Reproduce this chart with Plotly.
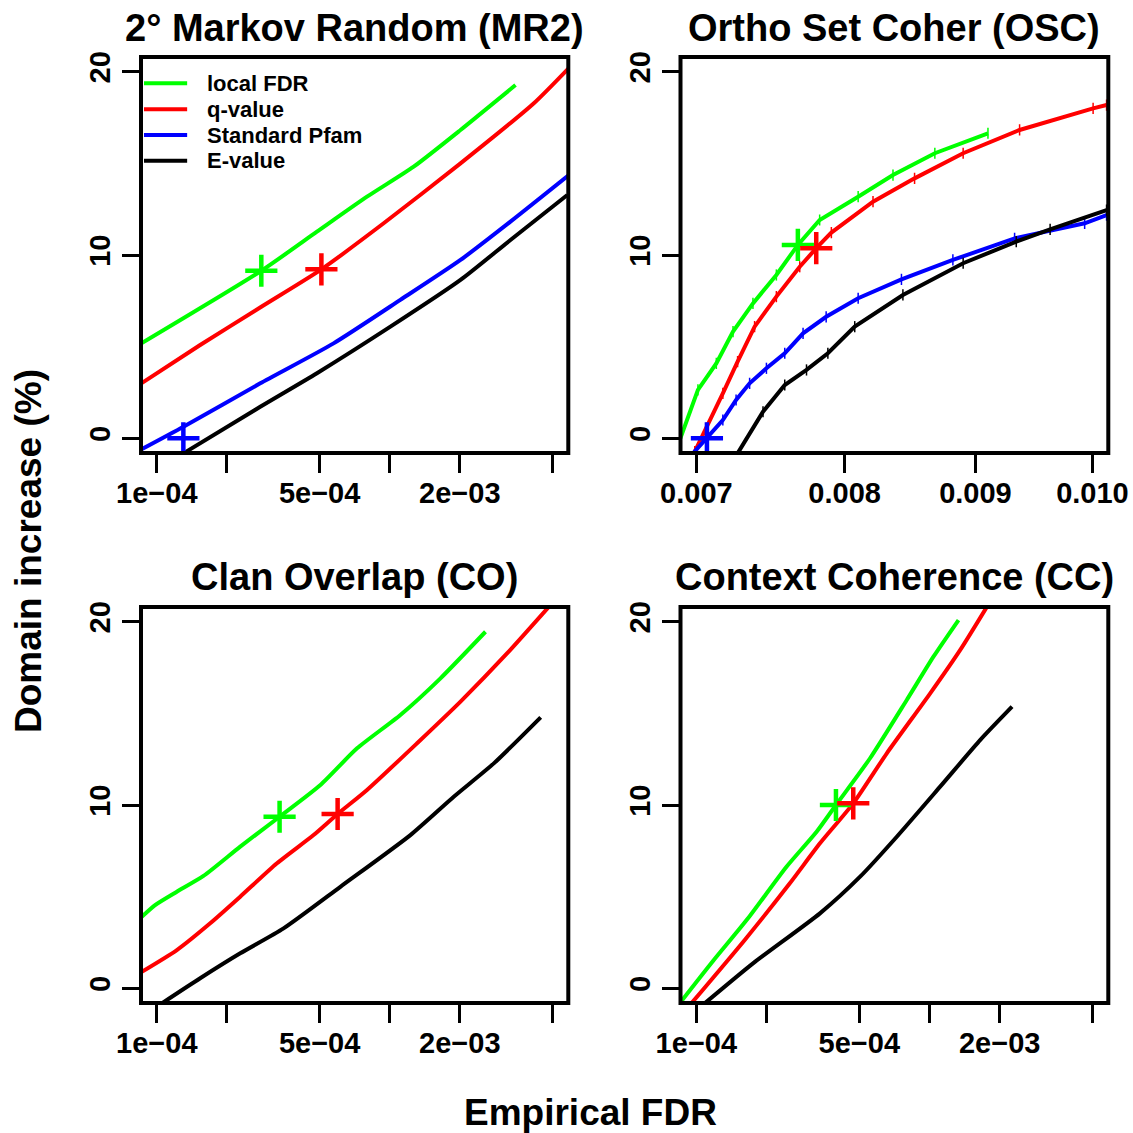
import plotly.graph_objects as go

W = H = 1133
FONT = "Liberation Sans, Arial, Helvetica, sans-serif"

# ---- series: (empirical FDR, domain increase %) ----
# 2nd-order Markov random (MR2)
mr2_lfdr_x = [8.48e-5, 2.81e-4, 4.87e-4, 7.99e-4, 1.268e-3, 2.014e-3, 3.47e-3]
mr2_lfdr_y = [5.14, 9.14, 11.27, 13.18, 14.82, 16.82, 19.27]
mr2_q_x = [8.48e-5, 1.535e-4, 2.81e-4, 5.09e-4, 9.42e-4, 2.014e-3, 4.16e-3, 5.92e-3]
mr2_q_y = [2.96, 5.09, 7.18, 9.22, 11.73, 15.0, 18.28, 20.24]
mr2_pfam_x = [8.48e-5, 1.301e-4, 2.78e-4, 5.74e-4, 1.111e-3, 2.014e-3, 3.30e-3, 5.88e-3]
mr2_pfam_y = [-0.64, 0.63, 3.0, 5.18, 7.55, 9.73, 11.82, 14.36]
mr2_e_x = [1.30e-4, 2.78e-4, 4.87e-4, 1.007e-3, 2.014e-3, 3.30e-3, 5.79e-3]
mr2_e_y = [-0.82, 1.72, 3.55, 6.09, 8.64, 10.82, 13.27]
mr2_mark_x = [2.81e-4, 5.09e-4, 1.30e-4]
mr2_mark_y = [9.14, 9.22, 0.0]

# Ortho set coherence (OSC)
osc_lfdr_x = [0.00690, 0.00701, 0.007127, 0.007235, 0.007366, 0.007523, 0.00767,
              0.007822, 0.008098, 0.008356, 0.008677, 0.009102]
osc_lfdr_y = [0.0, 2.64, 4.09, 5.82, 7.36, 8.91, 10.55, 11.91, 13.18, 14.36, 15.55, 16.64]
osc_q_x = [0.00699, 0.007063, 0.007169, 0.007265, 0.007377, 0.007523, 0.007683, 0.007798,
           0.007905, 0.008207, 0.00852, 0.008901, 0.009365, 0.010006, 0.010128]
osc_q_y = [-0.73, 0.55, 2.45, 4.18, 6.09, 7.73, 9.36, 10.37, 11.22, 12.91, 14.18, 15.55,
           16.82, 18.0, 18.18]
osc_pfam_x = [0.006979, 0.007067, 0.007169, 0.007255, 0.007344, 0.007456, 0.00758, 0.007706,
              0.007868, 0.008098, 0.00842, 0.008819, 0.009323, 0.00993, 0.010128]
osc_pfam_y = [-0.82, 0.0, 1.0, 2.09, 3.0, 3.82, 4.64, 5.73, 6.63, 7.64, 8.67, 9.73,
              10.91, 11.73, 12.18]
osc_e_x = [0.007265, 0.007433, 0.00758, 0.00773, 0.00788, 0.008073, 0.008431, 0.008901,
           0.009337, 0.009626, 0.010128]
osc_e_y = [-0.82, 1.45, 2.91, 3.73, 4.64, 6.09, 7.82, 9.55, 10.73, 11.4, 12.45]
osc_mark_x = [0.00767, 0.007798, 0.007067]
osc_mark_y = [10.55, 10.37, 0.0]

# Clan overlap (CO)
co_lfdr_x = [8.48e-5, 9.83e-5, 1.219e-4, 1.586e-4, 2.281e-4, 3.366e-4, 5.04e-4, 7.24e-4,
             1.111e-3, 1.652e-3, 2.578e-3]
co_lfdr_y = [3.82, 4.54, 5.27, 6.13, 7.73, 9.36, 11.09, 13.09, 14.91, 16.91, 19.45]
co_q_x = [8.48e-5, 1.219e-4, 1.695e-4, 2.281e-4, 3.28e-4, 4.71e-4, 5.975e-4, 7.99e-4,
          1.311e-3, 2.014e-3, 3.197e-3, 4.83e-3]
co_q_y = [0.85, 2.09, 3.55, 5.0, 6.82, 8.36, 9.51, 10.82, 13.37, 15.64, 18.28, 20.82]
co_e_x = [1.05e-4, 1.535e-4, 2.281e-4, 3.50e-4, 6.14e-4, 1.227e-3, 1.884e-3, 2.80e-3, 4.45e-3]
co_e_y = [-0.82, 0.55, 1.91, 3.27, 5.54, 8.36, 10.45, 12.27, 14.78]
co_mark_x = [3.366e-4, 5.975e-4]
co_mark_y = [9.36, 9.51]

# Context coherence (CC)
cc_lfdr_x = [8.48e-5, 1.179e-4, 1.666e-4, 2.436e-4, 3.28e-4, 3.97e-4, 5.56e-4, 7.99e-4,
             1.04e-3, 1.332e-3]
cc_lfdr_y = [-0.82, 1.49, 3.82, 6.63, 8.54, 10.0, 12.55, 15.73, 18.09, 20.09]
cc_q_x = [9.52e-5, 1.613e-4, 2.518e-4, 3.39e-4, 4.71e-4, 6.56e-4, 1.007e-3, 1.355e-3, 1.765e-3]
cc_q_y = [-0.82, 2.64, 5.73, 7.91, 10.09, 12.82, 16.09, 18.46, 20.82]
cc_e_x = [1.086e-4, 1.75e-4, 3.39e-4, 5.04e-4, 7.24e-4, 1.111e-3, 1.652e-3, 2.26e-3]
cc_e_y = [-0.82, 1.36, 4.09, 6.09, 8.27, 11.0, 13.55, 15.36]
cc_mark_x = [3.97e-4, 4.71e-4]
cc_mark_y = [10.0, 10.09]

# ---- labels and ticks ----
method_names = ["local FDR", "q-value", "Standard Pfam", "E-value"]
method_colors = ["#00ff00", "#ff0000", "#0000ff", "#000000"]
panel_titles = ["2° Markov Random (MR2)", "Ortho Set Coher (OSC)",
                "Clan Overlap (CO)", "Context Coherence (CC)"]
fdr_ticks = [1e-4, 2e-4, 5e-4, 1e-3, 2e-3, 5e-3]
fdr_ticktext = ["1e\u221204", "", "5e\u221204", "", "2e\u221203", ""]
osc_ticks = [0.007, 0.008, 0.009, 0.010]
osc_ticktext = ["0.007", "0.008", "0.009", "0.010"]
y_ticks = [0, 10, 20]
x_title = "Empirical FDR"
y_title = "Domain increase (%)"

fig = go.Figure()


def add_panel(idx, series, marks, vertex_ticks=False):
    xa, ya = ("x", "y") if idx == 1 else (f"x{idx}", f"y{idx}")
    for k, (sx, sy) in enumerate(series):
        if sx is None:
            continue
        kw = dict(mode="lines", line=dict(color=method_colors[k], width=4))
        if vertex_ticks:
            kw["mode"] = "lines+markers"
            kw["marker"] = dict(symbol="line-ns", size=8,
                                line=dict(color=method_colors[k], width=1.5))
        else:
            kw["line"]["shape"] = "spline"
            kw["line"]["smoothing"] = 0.6
        fig.add_trace(go.Scatter(x=sx, y=sy, xaxis=xa, yaxis=ya,
                                 name=method_names[k], showlegend=False, **kw))
    mx, my = marks
    fig.add_trace(go.Scatter(
        x=mx, y=my, xaxis=xa, yaxis=ya, mode="markers", showlegend=False,
        marker=dict(symbol="cross-thin", size=23,
                    line=dict(width=4.5, color=method_colors[:len(mx)])),
        cliponaxis=False))


add_panel(1, [(mr2_lfdr_x, mr2_lfdr_y), (mr2_q_x, mr2_q_y),
              (mr2_pfam_x, mr2_pfam_y), (mr2_e_x, mr2_e_y)], (mr2_mark_x, mr2_mark_y))
add_panel(2, [(osc_lfdr_x, osc_lfdr_y), (osc_q_x, osc_q_y),
              (osc_pfam_x, osc_pfam_y), (osc_e_x, osc_e_y)], (osc_mark_x, osc_mark_y),
          vertex_ticks=True)
add_panel(3, [(co_lfdr_x, co_lfdr_y), (co_q_x, co_q_y), (None, None),
              (co_e_x, co_e_y)], (co_mark_x, co_mark_y))
add_panel(4, [(cc_lfdr_x, cc_lfdr_y), (cc_q_x, cc_q_y), (None, None),
              (cc_e_x, cc_e_y)], (cc_mark_x, cc_mark_y))


def px_x(p):
    return p / W


def px_y(p):
    return 1 - p / H


col_dom = [[px_x(141), px_x(568.3)], [px_x(680.5), px_x(1108.3)]]
row_dom = [[px_y(453), px_y(57)], [px_y(1003), px_y(607)]]

tickfont = dict(family=FONT, size=29, color="black", weight="bold")
fdr_range = [-4.06796, -2.23307]       # log10 of [1e-4, 5e-3] padded 4%
osc_range = [-2.16110, -1.99380]       # log10 of [0.007, 0.010] padded 4%

layout_axes = {}
for idx in range(1, 5):
    r, c = divmod(idx - 1, 2)
    xa = "xaxis" if idx == 1 else f"xaxis{idx}"
    ya = "yaxis" if idx == 1 else f"yaxis{idx}"
    is_osc = idx == 2
    layout_axes[xa] = dict(
        domain=col_dom[c], anchor="y" if idx == 1 else f"y{idx}", type="log",
        range=osc_range if is_osc else fdr_range,
        tickvals=osc_ticks if is_osc else fdr_ticks,
        ticktext=osc_ticktext if is_osc else fdr_ticktext,
        ticks="outside", ticklen=19, tickwidth=3, tickcolor="black",
        tickfont=tickfont, ticklabelstandoff=-5,
        showgrid=False, zeroline=False, showline=False,
        automargin=False, fixedrange=True)
    layout_axes[ya] = dict(
        domain=row_dom[r], anchor="x" if idx == 1 else f"x{idx}",
        range=[-0.8, 20.8], tickvals=y_ticks, ticks="outside", ticklen=18,
        tickwidth=3, tickcolor="black", tickfont=tickfont, tickangle=-90,
        showgrid=False, zeroline=False, showline=False, automargin=False,
        fixedrange=True)

shapes = []
annotations = []
for idx in range(1, 5):
    suffix = "" if idx == 1 else str(idx)
    shapes.append(dict(type="rect", xref=f"x{suffix} domain", yref=f"y{suffix} domain",
                       x0=0, x1=1, y0=0, y1=1, line=dict(color="black", width=4),
                       layer="above"))
    r = (idx - 1) // 2
    annotations.append(dict(
        text=panel_titles[idx - 1], xref=f"x{suffix} domain", x=0.5,
        yref="paper", y=px_y(28 if r == 0 else 577), xanchor="center", yanchor="middle",
        showarrow=False, font=dict(family=FONT, size=38, color="black", weight="bold")))

# legend key in the upper-left corner of the MR2 panel (panel-domain units)
key_x0, key_x1, key_text_x = 0.007, 0.108, 0.150
key_rows = [0.934, 0.868, 0.803, 0.738]
for name, color, ky in zip(method_names, method_colors, key_rows):
    shapes.append(dict(type="line", xref="x domain", yref="y domain",
                       x0=key_x0, x1=key_x1, y0=ky, y1=ky,
                       line=dict(color=color, width=4)))
    annotations.append(dict(text=name, xref="x domain", yref="y domain",
                            x=key_text_x, y=ky, xanchor="left", yanchor="middle",
                            showarrow=False,
                            font=dict(family=FONT, size=22, color="black", weight="bold")))

annotations.append(dict(text=y_title, textangle=-90, xref="paper", yref="paper",
                        x=px_x(28), y=px_y(551), xanchor="center", yanchor="middle",
                        showarrow=False,
                        font=dict(family=FONT, size=37, color="black", weight="bold")))
annotations.append(dict(text=x_title, xref="paper", yref="paper",
                        x=px_x(590), y=px_y(1112), xanchor="center", yanchor="middle",
                        showarrow=False,
                        font=dict(family=FONT, size=37, color="black", weight="bold")))

fig.update_layout(
    width=W, height=H, margin=dict(l=0, r=0, t=0, b=0, autoexpand=False),
    paper_bgcolor="white", plot_bgcolor="white",
    font=dict(family=FONT, color="black"),
    shapes=shapes, annotations=annotations, showlegend=False,
    **layout_axes,
)

fig.write_html("out.html")
